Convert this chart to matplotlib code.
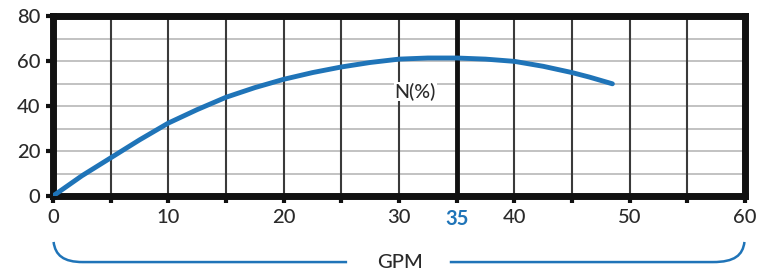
import matplotlib.pyplot as plt
from matplotlib.path import Path
from matplotlib.patches import PathPatch
import matplotlib.transforms as mtransforms

# N(%) curve
gpm = [0, 2.5, 5, 7.5, 10, 12.5, 15, 17.5, 20, 22.5, 25, 27.5, 30,
       32.5, 35, 37.5, 40, 42.5, 45, 46.5, 48.5]
eff = [0, 9, 17, 25, 32.5, 38.5, 44, 48.3, 52, 55, 57.5, 59.5, 61,
       61.5, 61.5, 61, 60, 57.8, 55, 53, 50]

x_labels = [0, 10, 20, 30, 35, 40, 50, 60]
y_ticks = [0, 20, 40, 60, 80]

blue = '#1f74b8'
ink = '#2a2a2a'

plt.rcParams['font.family'] = ['Lato', 'DejaVu Sans']
plt.rcParams['font.weight'] = 'medium'
fig = plt.figure(figsize=(7.65, 2.72), dpi=100)
ax = fig.add_axes([0.0693, 0.2794, 0.9046, 0.66])

ax.set_xlim(0, 60)
ax.set_ylim(0, 80)

# grid
for yv in range(10, 80, 10):
    ax.axhline(yv, color='#bdbdbd', lw=1.3, zorder=1)
for xv in range(5, 60, 5):
    if xv == 35:
        ax.axvline(xv, color='#111111', lw=3.5, zorder=1)
    else:
        ax.axvline(xv, color='#3a3a3a', lw=1.5, zorder=1)

ax.plot(gpm, eff, color=blue, lw=3.5, solid_capstyle='round',
        solid_joinstyle='round', zorder=3)

ax.text(31.4, 46.5, 'N(%)', fontsize=14, color=ink, ha='center', va='center',
        bbox=dict(facecolor='white', edgecolor='none', pad=0.5), zorder=2)

for s in ax.spines.values():
    s.set_linewidth(5)
    s.set_color('#111111')
    s.set_capstyle('projecting')

ax.set_xticks(range(0, 65, 5))
ax.set_xticklabels([str(v) if v in x_labels else '' for v in range(0, 65, 5)])
ax.set_yticks(y_ticks)
ax.tick_params(axis='both', length=5, width=3, color='#111111', labelsize=14.5,
               labelcolor=ink, pad=4)
for lab in ax.get_xticklabels():
    if lab.get_text() == '35':
        lab.set_color(blue)
        lab.set_fontweight('bold')

# bracket under the x axis
tr = mtransforms.blended_transform_factory(ax.transData, ax.transAxes)
y_top, y_bot = -0.256, -0.368
left = Path([(0.05, y_top), (0.2, -0.33), (0.9, y_bot), (2.6, y_bot), (25.5, y_bot)],
            [Path.MOVETO, Path.CURVE4, Path.CURVE4, Path.CURVE4, Path.LINETO])
right = Path([(59.95, y_top), (59.8, -0.33), (59.1, y_bot), (57.2, y_bot), (34.4, y_bot)],
             [Path.MOVETO, Path.CURVE4, Path.CURVE4, Path.CURVE4, Path.LINETO])
for p in (left, right):
    ax.add_patch(PathPatch(p, facecolor='none', edgecolor=blue, lw=1.8,
                           transform=tr, clip_on=False))
ax.text(30.1, y_bot, 'GPM', transform=tr, fontsize=14.5, color=ink,
        ha='center', va='center')

fig.savefig('out.png', dpi=100)
